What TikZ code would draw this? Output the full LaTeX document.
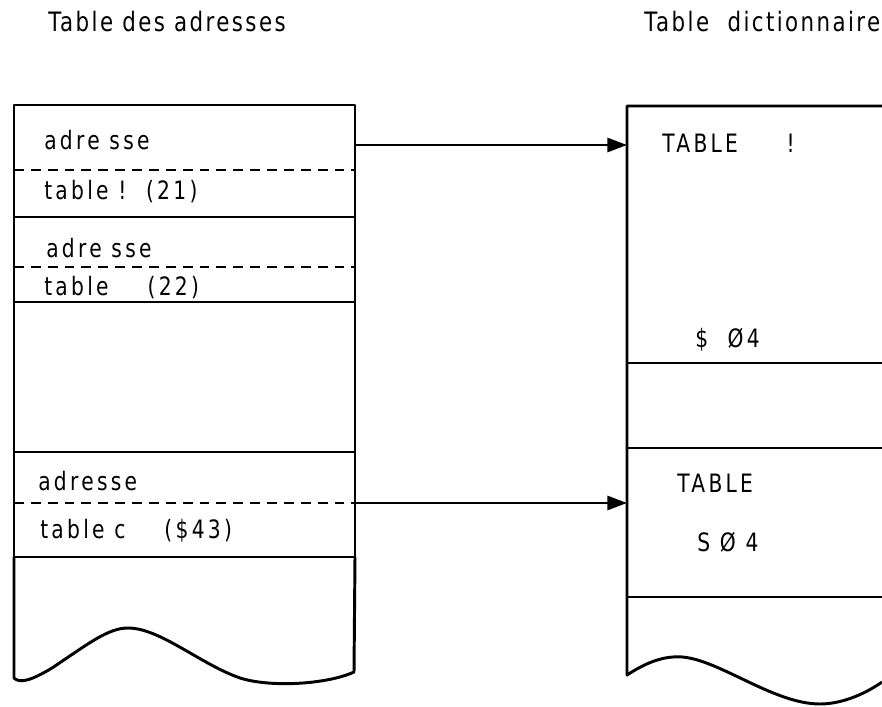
\documentclass[tikz,border=0pt]{standalone}
\usepackage{fontspec}
\setmainfont{DejaVu Sans}[FakeStretch=0.8,LetterSpace=13]
\usepackage{tikz}
\usetikzlibrary{arrows.meta}

\begin{document}
\begin{tikzpicture}[
      line join=round,
      wall/.style={line width=2.1pt},
      sep/.style={line width=2.1pt},
      split/.style={line width=1.4pt, dash pattern=on 7pt off 5pt},
      txt/.style={anchor=base west, inner sep=0pt, font=\fontsize{18}{21}\selectfont},
      title/.style={anchor=base west, inner sep=0pt,
                    font=\fontsize{19}{22}\selectfont\addfontfeatures{LetterSpace=9}},
      ptr/.style={-{Triangle[length=14pt,width=10pt]}, line width=2.1pt},
    ]
    \useasboundingbox (0,0) rectangle (22.05,-17.675);

    % titles
    \node[title] (tadr) at (1.2,-0.8) {Table des\ adresses};
    \node[title] (tdic) at (16.1,-0.8) {Table\ \ dictionnaire};

    % address table
    \draw[wall] (0.35,-13.925) -- (0.35,-2.625) -- (8.875,-2.625) -- (8.875,-13.925);
    \draw[wall] (0.35,-13.925) -- (0.35,-16.95)
      .. controls (0.5,-17.1) and (0.8,-17.0) .. (1.3,-16.7)
      .. controls (2.2,-16.1) and (2.7,-15.7) .. (3.2,-15.7)
      .. controls (4.0,-15.7) and (5.0,-16.6) .. (6.0,-16.95)
      .. controls (6.8,-17.2) and (8.2,-17.1) .. (8.85,-16.8)
      -- (8.875,-13.925);
    \foreach \y in {-5.425,-7.55,-11.3,-13.925}
      \draw[sep] (0.35,\y) -- (8.875,\y);
    \foreach \y in {-4.25,-6.675,-12.575}
      \draw[split] (0.35,\y) -- (8.875,\y);

    \node[txt] (adr1) at (1.1,-3.75)  {adre sse};
    \node[txt] (tab1) at (1.1,-5.0)   {table\ !\ \ (21)};
    \node[txt] (adr2) at (1.15,-6.45) {adre sse};
    \node[txt] (tab2) at (1.1,-7.4)   {table\ \ \ \ (22)};
    \node[txt] (adr3) at (0.95,-12.25) {adresse};
    \node[txt] (tab3) at (1.0,-13.45) {table\ c\ \ \ \ (\$43)};

    % dictionary table
    \draw[wall] (22.05,-2.65) -- (15.675,-2.65) -- (15.675,-16.875)
      .. controls (16.1,-16.6) and (16.5,-16.42) .. (16.95,-16.42)
      .. controls (17.9,-16.42) and (19.3,-17.6) .. (20.5,-17.6)
      .. controls (21.1,-17.6) and (21.7,-17.3) .. (22.05,-17.05);
    \foreach \y in {-9.075,-11.2,-14.925}
      \draw[sep] (15.675,\y) -- (22.05,\y);

    \node[txt] (dic1) at (16.55,-3.825) {TABLE\ \ \ \ \ !};
    \node[txt] (dic2) at (17.375,-8.675) {\$\ \ Ø4};
    \node[txt] (dic3) at (16.925,-12.3) {TABLE};
    \node[txt] (dic4) at (17.425,-13.775) {S Ø 4};

    % pointers
    \coordinate (from1) at (8.875,-3.625);
    \coordinate (to1) at (15.675,-3.625);
    \coordinate (from2) at (8.875,-12.575);
    \coordinate (to2) at (15.675,-12.575);
    \draw[ptr] (from1) -- (to1);
    \draw[ptr] (from2) -- (to2);
  \end{tikzpicture}
\end{document}
